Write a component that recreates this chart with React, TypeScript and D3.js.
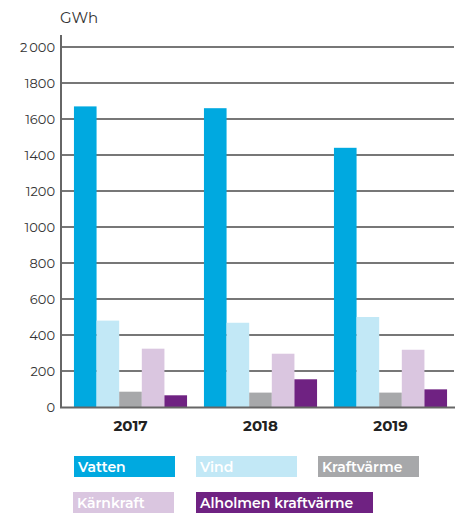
import React, { useEffect, useRef } from 'react';
import * as d3 from 'd3';

const years = ['2017', '2018', '2019'];
const seriesNames = ['Vatten', 'Vind', 'Kraftvärme', 'Kärnkraft', 'Alholmen kraftvärme'];
const seriesColors = ['#00a9e0', '#c2e8f6', '#a7a8aa', '#dac6e0', '#6f2282'];
const vatten = [1670, 1660, 1440];
const vind = [480, 468, 500];
const kraftvarme = [85, 80, 80];
const karnkraft = [324, 296, 318];
const alholmen = [65, 154, 98];
const yTicks = [0, 200, 400, 600, 800, 1000, 1200, 1400, 1600, 1800, 2000];

const App = () => {
  const ref = useRef<HTMLDivElement>(null);

  useEffect(() => {
    const width = 456;
    const height = 514;
    const font = 'Montserrat, "Noto Sans", sans-serif';
    const values = [vatten, vind, kraftvarme, karnkraft, alholmen];

    d3.select(ref.current).select('svg').remove();

    const svg = d3.select(ref.current)
      .append('svg')
      .attr('width', width)
      .attr('height', height)
      .style('display', 'block');

    const y = d3.scaleLinear().domain([0, 2000]).range([407, 47]);
    const x0 = d3.scaleBand().domain(years).range([65.5, 455.5]).paddingInner(0.13).paddingOuter(0.065);
    const x1 = d3.scaleBand().domain(seriesNames).range([0, x0.bandwidth()]);

    // gridlines
    svg.selectAll('line.grid')
      .data(yTicks.filter(t => t > 0))
      .enter()
      .append('line')
      .attr('x1', 61)
      .attr('x2', 454)
      .attr('y1', d => y(d))
      .attr('y2', d => y(d))
      .attr('stroke', '#4a4a4a')
      .attr('stroke-width', 1.3);

    svg.selectAll('text.ytick')
      .data(yTicks)
      .enter()
      .append('text')
      .attr('x', 55)
      .attr('y', d => y(d) + 4.5)
      .attr('text-anchor', 'end')
      .attr('font-family', font)
      .attr('font-size', 13)
      .attr('fill', '#333')
      .text(d => d3.format(',')(d).replace(/,/g, d >= 2000 ? '\u2009' : ''));

    // bars
    years.forEach((yr, i) => {
      seriesNames.forEach((s, j) => {
        const v = values[j][i];
        svg.append('rect')
          .attr('x', (x0(yr) as number) + (x1(s) as number))
          .attr('y', y(v))
          .attr('width', x1.bandwidth())
          .attr('height', y(0) - y(v))
          .attr('fill', seriesColors[j]);
      });
      svg.append('text')
        .attr('x', (x0(yr) as number) + x0.bandwidth() / 2)
        .attr('y', 431)
        .attr('text-anchor', 'middle')
        .attr('font-family', font)
        .attr('font-size', 15)
        .attr('font-weight', 'bold')
        .attr('fill', '#222')
        .text(yr);
    });

    // axes
    svg.append('line')
      .attr('x1', 61).attr('x2', 61)
      .attr('y1', 35).attr('y2', 408)
      .attr('stroke', '#666').attr('stroke-width', 2);
    svg.append('line')
      .attr('x1', 60).attr('x2', 455)
      .attr('y1', 407.5).attr('y2', 407.5)
      .attr('stroke', '#666').attr('stroke-width', 2);

    svg.append('text')
      .attr('x', 60)
      .attr('y', 23)
      .attr('font-family', font)
      .attr('font-size', 15)
      .attr('fill', '#333')
      .text('GWh');

    // legend
    const legendPos = [
      [74, 456], [196, 456], [318, 456],
      [73, 492], [196, 492],
    ];
    const legendWidths = [101, 101, 101, 101, 177];
    seriesNames.forEach((s, j) => {
      const [lx, ly] = legendPos[j];
      svg.append('rect')
        .attr('x', lx)
        .attr('y', ly)
        .attr('width', legendWidths[j])
        .attr('height', 21)
        .attr('fill', seriesColors[j]);
      svg.append('text')
        .attr('x', lx + 4)
        .attr('y', ly + 15.5)
        .attr('font-family', font)
        .attr('font-size', 14)
        .attr('font-weight', 600)
        .attr('fill', '#fff')
        .text(s);
    });
  }, []);

  return <div ref={ref} style={{ position: 'absolute', left: 0, top: 0 }}></div>;
};

export default App;
